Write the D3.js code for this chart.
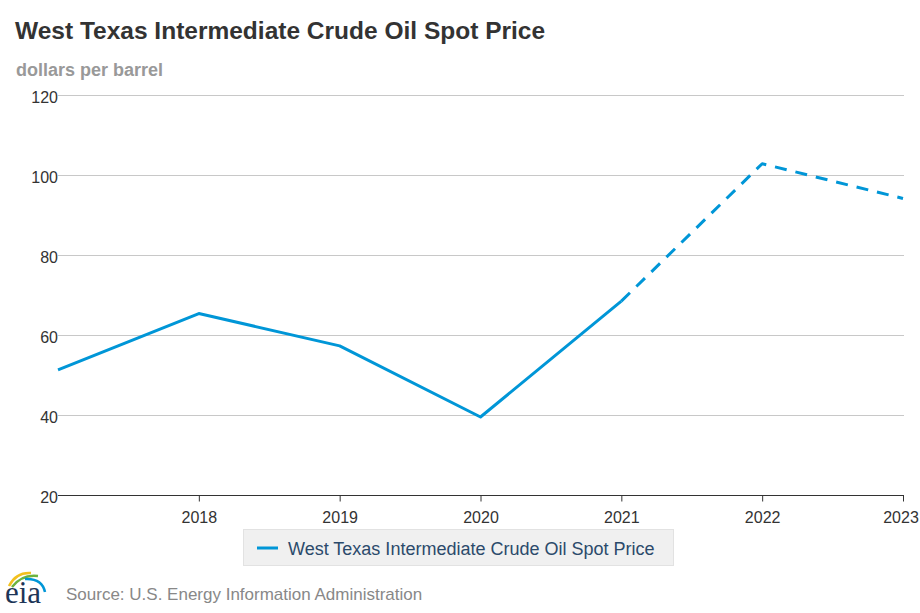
<!DOCTYPE html>
<html>
<head>
<meta charset="utf-8">
<script src="https://cdn.jsdelivr.net/npm/d3@7"></script>
<style>
  html, body { margin: 0; padding: 0; background: #fff; }
  svg { display: block; font-family: "Liberation Sans", Arial, Helvetica, sans-serif; }
</style>
</head>
<body>
<svg id="chart" width="920" height="613"></svg>
<script>
// ---- data ----
const years = [2017, 2018, 2019, 2020, 2021, 2022, 2023];
const wtiPrice = [51.2, 65.3, 57.2, 39.4, 68.4, 102.8, 94.1];
const forecastFrom = 2021;
const yTicks = [20, 40, 60, 80, 100, 120];
const xTicks = [2018, 2019, 2020, 2021, 2022, 2023];
const seriesName = "West Texas Intermediate Crude Oil Spot Price";
const titleText = "West Texas Intermediate Crude Oil Spot Price";
const unitText = "dollars per barrel";
const sourceText = "Source: U.S. Energy Information Administration";

const svg = d3.select("#chart");
const lineColor = "#0096d7";

const x = d3.scaleLinear().domain([2017, 2023]).range([58, 903]);
const y = d3.scaleLinear().domain([20, 120]).range([494.5, 95]);

// title
svg.append("text").attr("x", 15).attr("y", 39)
  .attr("font-size", 24.5).attr("font-weight", "bold").attr("fill", "#333")
  .text(titleText);
svg.append("text").attr("x", 16).attr("y", 76)
  .attr("font-size", 18).attr("font-weight", "bold").attr("fill", "#999")
  .text(unitText);

// gridlines
svg.append("g").selectAll("line")
  .data(yTicks.filter(d => d > 20)).join("line")
  .attr("x1", 58).attr("x2", 904)
  .attr("y1", d => Math.round(y(d)) + 0.5).attr("y2", d => Math.round(y(d)) + 0.5)
  .attr("stroke", "#c8c8c8").attr("stroke-width", 1);

// y labels
svg.append("g").selectAll("text")
  .data(yTicks).join("text")
  .attr("x", 58).attr("y", d => y(d) + 8)
  .attr("text-anchor", "end").attr("font-size", 16).attr("fill", "#333")
  .text(d => d);

// x axis
const xAxis = d3.axisBottom(x).tickValues(xTicks).tickFormat(d3.format("d")).tickSize(6).tickPadding(10);
const gx = svg.append("g").attr("transform", `translate(0,${Math.round(y(20)) + 0.5})`).call(xAxis);
gx.select(".domain").attr("stroke", "#333").attr("d", `M58,0H904`);
gx.selectAll(".tick line").attr("stroke", "#333");
gx.selectAll(".tick text").attr("font-size", 16).attr("fill", "#333")
  .attr("font-family", "'Liberation Sans', Arial, sans-serif")
  .attr("dx", d => d === 2023 ? -2.5 : 0);

// lines
const pts = years.map((yr, i) => ({ yr, v: wtiPrice[i] }));
const line = d3.line().x(d => x(d.yr)).y(d => y(d.v));
svg.append("path").datum(pts.filter(d => d.yr <= forecastFrom))
  .attr("d", line).attr("fill", "none").attr("stroke", lineColor)
  .attr("stroke-width", 3).attr("stroke-linejoin", "round");
svg.append("path").datum(pts.filter(d => d.yr >= forecastFrom))
  .attr("d", line).attr("fill", "none").attr("stroke", lineColor)
  .attr("stroke-width", 3).attr("stroke-dasharray", "12,9").attr("stroke-linejoin", "round");

// legend
svg.append("rect").attr("x", 243.5).attr("y", 529.5).attr("width", 430).attr("height", 36)
  .attr("fill", "#f0f0f0").attr("stroke", "#e2e2e2");
svg.append("line").attr("x1", 257).attr("x2", 278).attr("y1", 548).attr("y2", 548)
  .attr("stroke", lineColor).attr("stroke-width", 3);
svg.append("text").attr("x", 288).attr("y", 554.5)
  .attr("font-size", 18).attr("fill", "#2b4a6b").text(seriesName);

// eia logo
const logo = svg.append("g");
logo.append("path").attr("d", "M9,586 Q16,572 31,573").attr("fill", "none").attr("stroke", "#f2c01e").attr("stroke-width", 2.5);
logo.append("path").attr("d", "M12,587 Q22,574 38,576").attr("fill", "none").attr("stroke", "#6cb33f").attr("stroke-width", 2.5);
logo.append("path").attr("d", "M25,579 Q42,578 45,592").attr("fill", "none").attr("stroke", "#0096d7").attr("stroke-width", 2.5);
logo.append("text").attr("x", 5).attr("y", 603)
  .attr("font-family", "'Liberation Serif', 'DejaVu Serif', serif")
  .attr("font-size", 31).attr("fill", "#1d3557").text("eia");

// source
svg.append("text").attr("x", 66).attr("y", 600)
  .attr("font-size", 17).attr("fill", "#888").text(sourceText);
</script>
</body>
</html>
